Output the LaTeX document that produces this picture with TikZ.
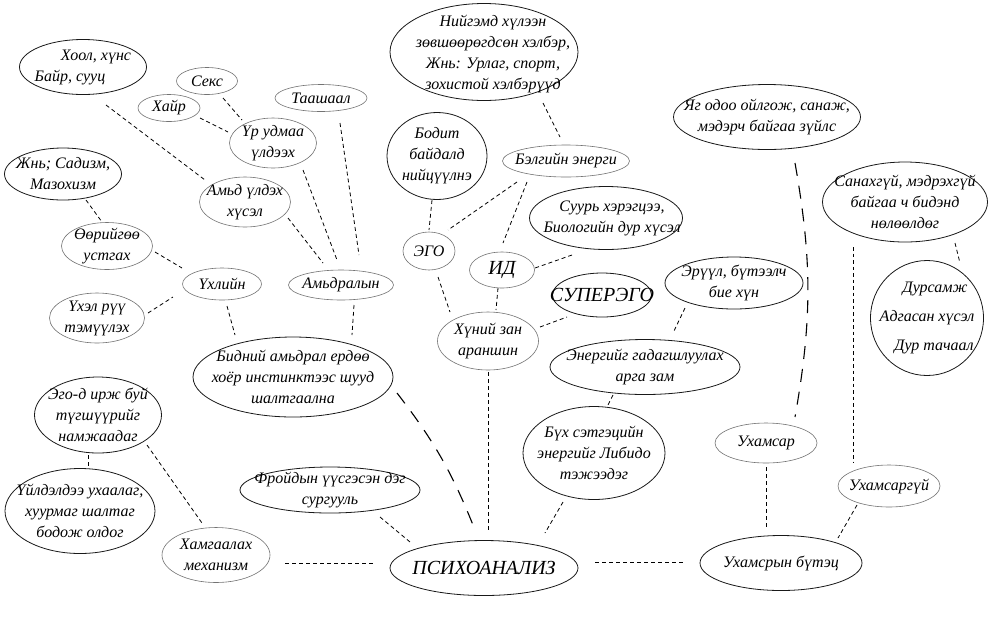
\documentclass[tikz,border=0pt]{standalone}
\usepackage{fontspec}
\setmainfont{Liberation Serif}
\usetikzlibrary{shapes.geometric,calc}
\begin{document}
\begin{tikzpicture}[x=1pt,y=-1pt,
  elb/.style={draw=black!90, line width=0.8pt, ellipse, inner sep=0pt},
  elg/.style={draw=black!55, line width=0.6pt, ellipse, inner sep=0pt},
  lbl/.style={align=center, font=\fontsize{16}{21}\selectfont\itshape, inner sep=0pt},
  big/.style={align=center, font=\fontsize{20}{24}\selectfont\itshape, inner sep=0pt},
  dl/.style={draw=black, line width=0.8pt, dash pattern=on 4pt off 3pt},
  fl/.style={draw=black, line width=0.8pt, dash pattern=on 3.5pt off 3pt},
  ll/.style={draw=black, line width=1.1pt, dash pattern=on 13pt off 10pt}
]
\fill[white] (0,0) rectangle (992,633);
\useasboundingbox (0,0) rectangle (992,633);

% ---- nodes ----
\node[elb, minimum width=127pt, minimum height=55pt] (hool) at (83,67) {};
\node[lbl] (hool-t) at (hool) {\hspace*{26pt}Хоол, хүнс\\Байр, сууц\hspace*{26pt}};
\node[elg, minimum width=61pt, minimum height=27pt] (seks) at (207,81) {};
\node[lbl] (seks-t) at (seks) {Секс};
\node[elg, minimum width=62pt, minimum height=27pt] (hair) at (169,108) {};
\node[lbl] (hair-t) at (hair) {Хайр};
\node[elg, minimum width=92pt, minimum height=27pt] (taa) at (321,98) {};
\node[lbl] (taa-t) at (taa) {Таашаал};
\node[elg, minimum width=87pt, minimum height=50pt] (ur) at (273,143) {};
\node[lbl] (ur-t) at (ur) {Үр удмаа\\үлдээх};
\node[elb, minimum width=117pt, minimum height=52pt] (jnb) at (63,174) {};
\node[lbl] (jnb-t) at (jnb) {Жнь; Садизм,\\Мазохизм};
\node[elg, minimum width=91pt, minimum height=50pt] (amdul) at (245,202) {};
\node[lbl] (amdul-t) at (amdul) {Амьд үлдэх\\хүсэл};
\node[elg, minimum width=91pt, minimum height=47pt] (oor) at (107,246) {};
\node[lbl] (oor-t) at (oor) {Өөрийгөө\\устгах};
\node[elg, minimum width=79pt, minimum height=32pt] (uhl) at (222,284) {};
\node[lbl] (uhl-t) at (uhl) {Үхлийн};
\node[elg, minimum width=105pt, minimum height=30pt] (amdr) at (341,285) {};
\node[lbl] (amdr-t) at (amdr) {Амьдралын};
\node[elg, minimum width=95pt, minimum height=50pt] (uhel) at (97,318) {};
\node[lbl] (uhel-t) at (uhel) {Үхэл рүү\\тэмүүлэх};
\node[elb, minimum width=200pt, minimum height=80pt] (bid) at (293,377) {};
\node[lbl] (bid-t) at (bid) {Бидний амьдрал ердөө\\хоёр инстинктээс шууд\\шалтгаална};
\node[elb, minimum width=127pt, minimum height=76pt] (egoir) at (98,415) {};
\node[lbl] (egoir-t) at (egoir) {Эго-д ирж буй\\түгшүүрийг\\намжаадаг};
\node[elb, minimum width=150pt, minimum height=85pt] (uild) at (80,511) {};
\node[lbl] (uild-t) at (uild) {Үйлдэлдээ ухаалаг,\\хуурмаг шалтаг\\бодож олдог};
\node[elg, minimum width=108pt, minimum height=55pt] (ham) at (216,555) {};
\node[lbl] (ham-t) at (ham) {Хамгаалах\\механизм};
\node[elb, minimum width=180pt, minimum height=46pt] (froid) at (330,490) {};
\node[lbl] (froid-t) at (froid) {Фройдын үүсгэсэн дэг\\сургууль};
\node[elb, minimum width=188pt, minimum height=55pt] (psy) at (484,568) {};
\node[big] (psy-t) at (psy) {ПСИХОАНАЛИЗ};
\node[elb, minimum width=162pt, minimum height=55pt] (ustr) at (781,563) {};
\node[lbl] (ustr-t) at (ustr) {Ухамсрын бүтэц};
\node[elg, minimum width=102pt, minimum height=40pt] (uhs) at (766,443) {};
\node[lbl] (uhs-t) at (uhs) {Ухамсар};
\node[elg, minimum width=102pt, minimum height=42pt] (uhsg) at (889,486) {};
\node[lbl] (uhsg-t) at (uhsg) {Ухамсаргүй};
\node[elb, minimum width=142pt, minimum height=93pt] (buh) at (594,453) {};
\node[lbl] (buh-t) at (buh) {Бүх сэтгэцийн\\энергийг Либидо\\тэжээдэг};
\node[elb, minimum width=190pt, minimum height=55pt] (energ) at (645,367) {};
\node[lbl] (energ-t) at (energ) {Энергийг гадагшлуулах\\арга зам};
\node[elb, minimum width=138pt, minimum height=52pt] (eruul) at (734,283) {};
\node[lbl] (eruul-t) at (eruul) {Эрүүл, бүтээлч\\бие хүн};
\node[elb, minimum width=165pt, minimum height=80pt] (sanah) at (905,202) {};
\node[lbl] (sanah-t) at (sanah) {Санахгүй, мэдрэхгүй\\байгаа ч бидэнд\\нөлөөлдөг};
\node[elb, minimum width=113pt, minimum height=115pt] (durs) at (927,318) {};
\node[lbl] (durs-t) at (durs) {\hspace*{16pt}Дурсамж\\[8pt]Адгасан хүсэл\\[8pt]\hspace*{14pt}Дур тачаал};
\node[elb, minimum width=187pt, minimum height=65pt] (yag) at (767,117) {};
\node[lbl] (yag-t) at (yag) {Яг одоо ойлгож, санаж,\\мэдэрч байгаа зүйлс};
\node[elb, minimum width=188pt, minimum height=97pt] (niig) at (484,52) {};
\node[lbl] (niig-t) at ($(niig)+(9,2)$) {Нийгэмд хүлээн\\зөвшөөрөгдсөн хэлбэр,\\Жнь: Урлаг, спорт,\\зохистой хэлбэрүүд};
\node[elb, minimum width=100pt, minimum height=87pt] (bodit) at (437,156) {};
\node[lbl] (bodit-t) at (bodit) {Бодит\\байдалд\\нийцүүлнэ};
\node[elg, minimum width=127pt, minimum height=32pt] (belg) at (566,161) {};
\node[lbl] (belg-t) at (belg) {Бэлгийн энерги};
\node[elb, minimum width=153pt, minimum height=63pt] (suur) at (606,218) {};
\node[lbl] (suur-t) at ($(suur)+(6,0)$) {Суурь хэрэгцээ,\\Биологийн дур хүсэл};
\node[elg, minimum width=52pt, minimum height=38pt] (ego) at (429,251) {};
\node[lbl] (ego-t) at (ego) {ЭГО};
\node[elg, minimum width=65pt, minimum height=36pt] (id) at (502,270) {};
\node[big] (id-t) at (id) {ИД};
\node[elb, minimum width=99pt, minimum height=44pt] (super) at (602,295) {};
\node[big] (super-t) at (super) {СУПЕРЭГО};
\node[elg, minimum width=101pt, minimum height=58pt] (hun) at (488,341) {};
\node[lbl] (hun-t) at (hun) {Хүний зан\\араншин};

% ---- connectors ----
\draw[dl] ($(hool)+(23,38)$) -- ($(amdul)+(-40,-22)$);
\draw[dl] ($(seks)+(16,17)$) -- ($(ur)+(-31,-23)$);
\draw[dl] ($(hair)+(31,10)$) -- ($(ur)+(-45,-11)$);
\draw[dl] ($(taa)+(19,25)$) -- ($(amdr)+(18,-30)$);
\draw[dl] ($(ur)+(30,27)$) -- ($(amdr)+(-4,-25)$);
\draw[dl] ($(amdul)+(43,16)$) -- ($(amdr)+(-18,-22)$);
\draw[dl] ($(jnb)+(23,26)$) -- ($(oor)+(-5,-24)$);
\draw[dl] ($(oor)+(48,6)$) -- ($(uhl)+(-40,-16)$);
\draw[dl] ($(uhel)+(51,-5)$) -- ($(uhl)+(-49,13)$);
\draw[dl] ($(uhl)+(5,22)$) -- ($(bid)+(-58,-42)$);
\draw[dl] ($(amdr)+(13,20)$) -- ($(bid)+(59,-42)$);
\draw[ll] ($(bid)+(104,16)$) to[bend left=8] ($(psy)+(-9,-38)$);
\draw[dl] ($(egoir)+(-10,40)$) -- ($(uild)+(8,-43)$);
\draw[dl] ($(egoir)+(49,30)$) -- ($(ham)+(-14,-32)$);
\draw[dl] ($(ham)+(69,8)$) -- ($(psy)+(-109,-5)$);
\draw[dl] ($(froid)+(50,27)$) -- ($(psy)+(-74,-26)$);
\draw[dl] ($(psy)+(111,-6)$) -- ($(ustr)+(-96,-1)$);
\draw[dl] ($(hun)+(0,31)$) -- ($(psy)+(4,-38)$);
\draw[dl] ($(buh)+(-31,49)$) -- ($(psy)+(61,-35)$);
\draw[dl] ($(energ)+(-32,28)$) -- ($(buh)+(13,-46)$);
\draw[dl] ($(eruul)+(-49,25)$) -- ($(energ)+(28,-34)$);
\draw[dl] ($(hun)+(52,-14)$) -- ($(super)+(-35,22)$);
\draw[dl] ($(ego)+(9,26)$) -- ($(hun)+(-38,-29)$);
\draw[dl] ($(id)+(-4,18)$) -- ($(hun)+(8,-31)$);
\draw[dl] ($(bodit)+(-5,44)$) -- ($(ego)+(0,-21)$);
\draw[dl] ($(belg)+(-49,21)$) -- ($(ego)+(19,-21)$);
\draw[dl] ($(belg)+(-39,21)$) -- ($(id)+(1,-27)$);
\draw[dl] ($(suur)+(-34,37)$) -- ($(id)+(33,-2)$);
\draw[dl] ($(niig)+(59,51)$) -- ($(belg)+(-6,-24)$);
\draw[ll] ($(yag)+(28,46)$) to[bend left=10] ($(uhs)+(29,-26)$);
\draw[dl] ($(sanah)+(50,41)$) -- ($(durs)+(33,-55)$);
\draw[fl] ($(sanah)+(-52,45)$) -- ($(uhsg)+(-36,-24)$);
\draw[dl] ($(uhs)+(0,24)$) -- ($(ustr)+(-15,-35)$);
\draw[dl] ($(uhsg)+(-32,19)$) -- ($(ustr)+(57,-25)$);
\end{tikzpicture}
\end{document}
